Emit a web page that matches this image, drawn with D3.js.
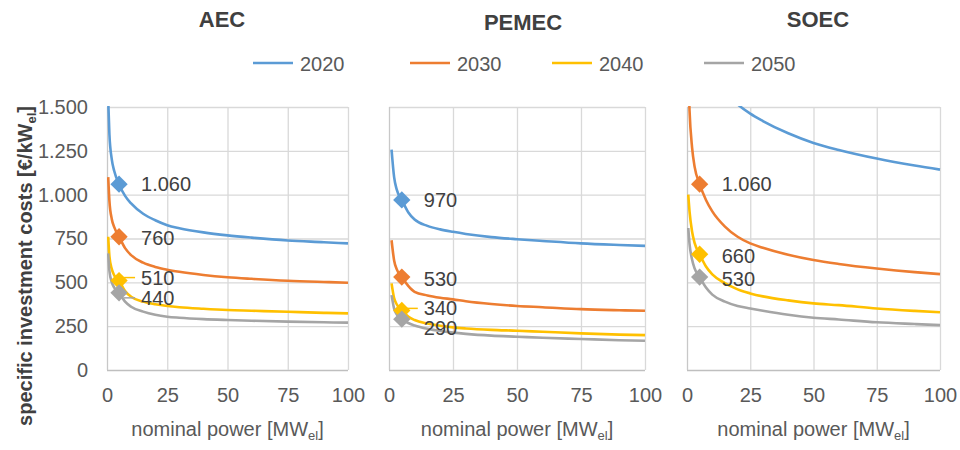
<!DOCTYPE html>
<html><head><meta charset="utf-8">
<script src="https://cdn.jsdelivr.net/npm/d3@7"></script>
<style>
html,body{margin:0;padding:0;background:#fff;}
svg{display:block;font-family:"Liberation Sans",Arial,sans-serif;}
</style></head><body>
<svg id="chart" width="960" height="450"></svg>
<script>
// ---------- data ----------
const technologies = ["AEC", "PEMEC", "SOEC"];
const years = ["2020", "2030", "2040", "2050"];
const nominalPower = [0.5, 1, 2, 3, 5, 7.5, 10, 15, 20, 25, 30, 40, 50, 60, 75, 90, 100];
const aec2020 = [1540, 1345, 1200, 1135, 1060, 993, 950, 891, 854, 826, 809, 785, 768, 755, 739, 729, 722];
const aec2030 = [1100, 965, 860, 815, 760, 695, 655, 612, 588, 572, 560, 542, 529, 520, 509, 502, 498];
const aec2040 = [760, 650, 575, 540, 510, 450, 418, 390, 375, 365, 358, 349, 342, 338, 332, 326, 323];
const aec2050 = [665, 565, 500, 470, 440, 390, 361, 333, 315, 304, 298, 290, 285, 281, 276, 272, 270];
const pemec2020 = [null, 1257, 1100, 1030, 970, 900, 858, 822, 802, 788, 776, 758, 746, 736, 722, 713, 708];
const pemec2030 = [null, 740, 625, 575, 530, 480, 446, 425, 412, 403, 392, 376, 365, 358, 347, 341, 338];
const pemec2040 = [null, 494, 410, 375, 340, 305, 285, 265, 252, 243, 237, 229, 224, 218, 209, 202, 199];
const pemec2050 = [null, 427, 350, 318, 290, 268, 254, 235, 222, 213, 206, 196, 190, 184, 177, 170, 167];
const soec2020 = [2600, 2350, 2100, 1980, 1855, 1755, 1683, 1584, 1515, 1462, 1420, 1350, 1295, 1255, 1206, 1166, 1143];
const soec2030 = [1700, 1480, 1270, 1160, 1060, 970, 905, 818, 760, 722, 697, 657, 627, 605, 579, 558, 547];
const soec2040 = [1000, 905, 790, 725, 660, 590, 545, 495, 460, 437, 420, 397, 380, 370, 351, 337, 329];
const soec2050 = [810, 720, 630, 580, 530, 470, 430, 390, 365, 351, 338, 315, 298, 288, 272, 262, 256];
const markerPower = 5;
const xTicks = [0, 25, 50, 75, 100];
const yTicks = [0, 250, 500, 750, 1000, 1250, 1500];

const seriesByTech = [
  [aec2020, aec2030, aec2040, aec2050],
  [pemec2020, pemec2030, pemec2040, pemec2050],
  [soec2020, soec2030, soec2040, soec2050]
];

// ---------- layout / style ----------
const colors = ["#5b9bd5", "#ed7d31", "#ffc000", "#a5a5a5"];
const panelLeft = [107, 389, 687];
const panelRight = [348, 645, 940];
const plotTop = 107, plotBottom = 370;
const titleX = [222, 523, 818], titleY = [27, 30, 27];
const legendX = [253, 410, 552, 704];
// label vertical nudges (as placed in the original) and leader lines
const labelDy = [[0, 1, -3, 5], [0, 2, -2, 9], [0, 0, 2, 2]];
const leader = [[false, false, true, true], [false, false, true, false], [false, false, false, false]];

const loc = d3.formatLocale({decimal: ",", thousands: ".", grouping: [3], currency: ["", " €"]});
const fmt = loc.format(",.0f");

const svg = d3.select("#chart");
const y = d3.scaleLinear().domain([0, 1500]).range([plotBottom, plotTop]);

technologies.forEach((tech, ti) => {
  const x = d3.scaleLinear().domain([0, 100]).range([panelLeft[ti], panelRight[ti]]);
  const g = svg.append("g");

  const clipId = "clip" + ti;
  svg.append("clipPath").attr("id", clipId).append("rect")
    .attr("x", panelLeft[ti]).attr("y", plotTop - 1)
    .attr("width", panelRight[ti] - panelLeft[ti] + 2).attr("height", plotBottom - plotTop + 1);

  // grid
  g.selectAll(".hg").data(yTicks).join("line")
    .attr("x1", panelLeft[ti]).attr("x2", panelRight[ti])
    .attr("y1", d => y(d) + 0.5).attr("y2", d => y(d) + 0.5)
    .attr("stroke", d => d === 0 ? "#bfbfbf" : "#d9d9d9").attr("stroke-width", 1.3);
  g.selectAll(".vg").data(xTicks).join("line")
    .attr("x1", d => x(d) + 0.5).attr("x2", d => x(d) + 0.5)
    .attr("y1", plotTop).attr("y2", plotBottom)
    .attr("stroke", d => d === 0 ? "#c8c8c8" : "#d9d9d9").attr("stroke-width", 1.3);

  // x axis labels
  const xa = g.append("g").attr("transform", `translate(0,${plotBottom})`)
    .call(d3.axisBottom(x).tickValues(xTicks).tickSize(0).tickPadding(18));
  xa.select(".domain").remove();
  xa.selectAll("text").attr("font-size", 20).attr("fill", "#595959")
    .attr("font-family", "Liberation Sans, Arial, sans-serif");

  if (ti === 0) {
    const ya = g.append("g").attr("transform", `translate(${panelLeft[ti]},0)`)
      .call(d3.axisLeft(y).tickValues(yTicks).tickSize(0).tickPadding(19).tickFormat(fmt));
    ya.select(".domain").remove();
    ya.selectAll("text").attr("font-size", 20).attr("fill", "#595959")
      .attr("font-family", "Liberation Sans, Arial, sans-serif");
  }

  // x axis title
  const xt = g.append("text").attr("x", (panelLeft[ti] + panelRight[ti]) / 2).attr("y", 436)
    .attr("text-anchor", "middle").attr("font-size", 20).attr("fill", "#595959");
  xt.append("tspan").text("nominal power [MW");
  xt.append("tspan").attr("font-size", 13).attr("dy", 4).text("el");
  xt.append("tspan").attr("dy", -4).text("]");

  // title
  g.append("text").attr("x", titleX[ti]).attr("y", titleY[ti]).attr("text-anchor", "middle")
    .attr("font-size", 22).attr("font-weight", "bold").attr("fill", "#404040").text(tech);

  // lines
  const line = d3.line()
    .defined(d => d[1] != null)
    .x(d => x(d[0])).y(d => y(d[1]))
    .curve(d3.curveMonotoneX);
  const lg = g.append("g").attr("clip-path", `url(#${clipId})`);
  seriesByTech[ti].forEach((vals, si) => {
    lg.append("path")
      .datum(nominalPower.map((p, i) => [p, vals[i]]))
      .attr("d", line).attr("fill", "none")
      .attr("stroke", colors[si]).attr("stroke-width", 2.6).attr("stroke-linejoin", "round");
  });

  // markers + labels
  const mi = nominalPower.indexOf(markerPower);
  const sym = d3.symbol().type(d3.symbolSquare).size(150);
  seriesByTech[ti].forEach((vals, si) => {
    const v = vals[mi];
    if (v == null || v > 1500) return;
    const mx = x(markerPower), my = y(v);
    const ly = my + labelDy[ti][si];
    if (leader[ti][si]) {
      g.append("line").attr("x1", mx + 5).attr("x2", mx + 16)
        .attr("y1", ly).attr("y2", ly)
        .attr("stroke", colors[si]).attr("stroke-width", 1.5);
    }
    g.append("path").attr("d", sym)
      .attr("transform", `translate(${mx},${my}) rotate(45)`)
      .attr("fill", colors[si]);
    g.append("text").attr("x", mx + 22).attr("y", ly).attr("dy", "0.35em")
      .attr("font-size", 20).attr("fill", "#404040").text(fmt(v));
  });
});

// legend
years.forEach((yr, i) => {
  svg.append("line").attr("x1", legendX[i]).attr("x2", legendX[i] + 40)
    .attr("y1", 63).attr("y2", 63).attr("stroke", colors[i]).attr("stroke-width", 2.6);
  svg.append("text").attr("x", legendX[i] + 47).attr("y", 71)
    .attr("font-size", 20).attr("fill", "#595959").text(yr);
});

// y axis title
const yt = svg.append("text").attr("transform", "translate(32,266) rotate(-90)")
  .attr("text-anchor", "middle").attr("font-size", 20).attr("font-weight", "bold").attr("fill", "#404040");
yt.append("tspan").text("specific investment costs [€/kW");
yt.append("tspan").attr("font-size", 13).attr("dy", 4).text("el");
yt.append("tspan").attr("dy", -4).text("]");
</script>
</body></html>
